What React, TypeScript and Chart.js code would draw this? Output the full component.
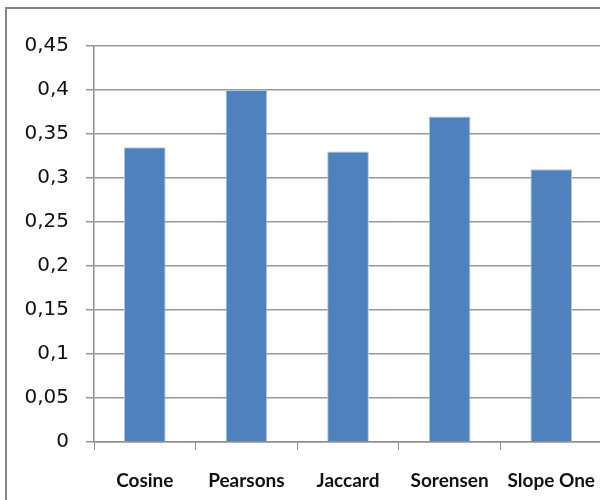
import React, { useEffect, useRef } from "react";
import { Chart, registerables } from "chart.js";

Chart.register(...registerables);

// Similarity measure results
const categories: string[] = ["Cosine", "Pearsons", "Jaccard", "Sorensen", "Slope One"];
const scores: number[] = [0.335, 0.4, 0.33, 0.37, 0.31];
const yMin = 0;
const yMax = 0.45;
const yStep = 0.05;

const formatTick = (v: number): string =>
  String(Number(v.toFixed(2))).replace(".", ",");

// Grey frame along the left and top edges of the chart
const framePlugin = {
  id: "frame",
  afterDraw(chart: Chart) {
    const ctx = chart.ctx;
    ctx.save();
    ctx.strokeStyle = "#878787";
    ctx.lineWidth = 2;
    ctx.beginPath();
    ctx.moveTo(6, chart.height);
    ctx.lineTo(6, 8);
    ctx.lineTo(chart.width, 8);
    ctx.stroke();
    ctx.restore();
  },
};

export default function App() {
  const canvasRef = useRef<HTMLCanvasElement | null>(null);

  useEffect(() => {
    const canvas = canvasRef.current;
    if (!canvas) return;
    const chart = new Chart(canvas, {
      type: "bar",
      data: {
        labels: categories,
        datasets: [
          {
            data: scores,
            backgroundColor: "#4f81bd",
            borderColor: "#b3c8e2",
            borderWidth: 1,
            barPercentage: 0.41,
            categoryPercentage: 1,
          },
        ],
      },
      options: {
        responsive: false,
        animation: false,
        layout: { padding: { top: 46, right: 0, left: 0, bottom: 0 } },
        plugins: {
          legend: { display: false },
          tooltip: { enabled: false },
        },
        scales: {
          x: {
            offset: true,
            grid: {
              display: true,
              drawOnChartArea: false,
              drawTicks: true,
              tickLength: 8,
              color: "#8e8e8e",
              offset: true,
            },
            border: { display: true, color: "#8e8e8e", width: 1.5 },
            ticks: {
              color: "#111",
              padding: 19,
              maxRotation: 0,
              autoSkip: false,
              font: { family: "Lato", size: 19, weight: "bold" },
            },
            afterFit: (scale: any) => {
              scale.height = 58;
            },
          },
          y: {
            min: yMin,
            max: yMax,
            ticks: {
              stepSize: yStep,
              color: "#111",
              padding: 17,
              font: { family: "DejaVu Sans", size: 20 },
              callback: (v: any) => formatTick(Number(v)),
            },
            grid: {
              color: "#9a9a9a",
              lineWidth: 1.5,
              tickLength: 8,
            },
            border: { display: true, color: "#8e8e8e", width: 1.5 },
            afterFit: (scale: any) => {
              scale.width = 94;
            },
          },
        },
      },
      plugins: [
        {
          id: "whiteBg",
          beforeDraw(c: Chart) {
            const ctx = c.ctx;
            ctx.save();
            ctx.fillStyle = "#ffffff";
            ctx.fillRect(0, 0, c.width, c.height);
            ctx.restore();
          },
        },
        framePlugin,
      ],
    });
    return () => chart.destroy();
  }, []);

  return (
    <div
      style={{
        position: "absolute",
        left: 0,
        top: 0,
        width: 600,
        height: 500,
        overflow: "hidden",
        background: "#fff",
      }}
    >
      <canvas ref={canvasRef} width={614} height={500} style={{ display: "block" }} />
    </div>
  );
}
